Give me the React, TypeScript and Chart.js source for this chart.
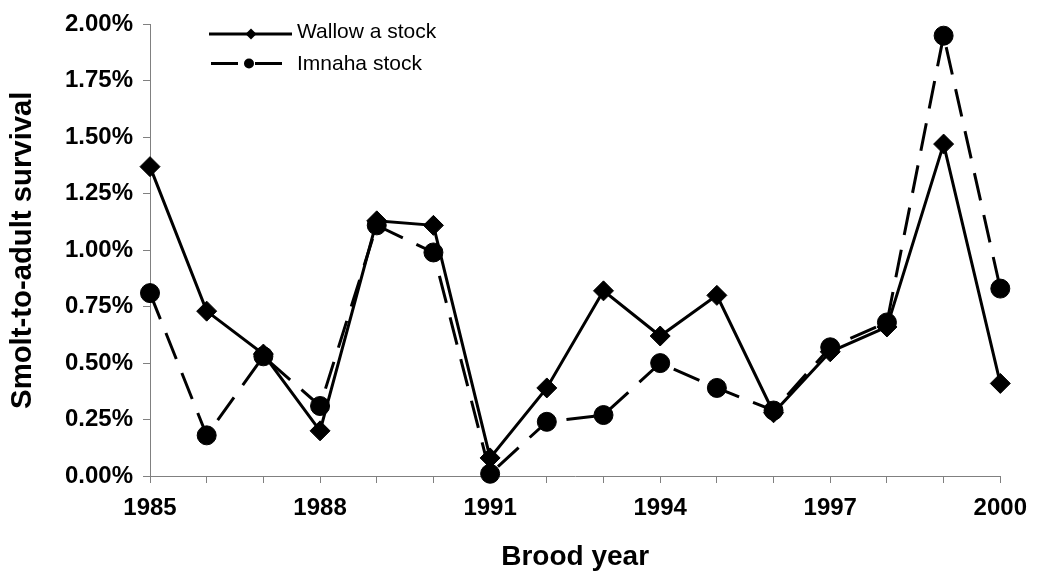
import React, { useEffect, useRef } from 'react';
import { Chart, registerables } from 'chart.js';

Chart.register(...registerables);

const years = [1985, 1986, 1987, 1988, 1989, 1990, 1991, 1992, 1993, 1994, 1995, 1996, 1997, 1998, 1999, 2000];
const wallowa = [1.37, 0.73, 0.54, 0.2, 1.13, 1.11, 0.08, 0.39, 0.82, 0.62, 0.8, 0.28, 0.55, 0.66, 1.47, 0.41];
const imnaha = [0.81, 0.18, 0.53, 0.31, 1.11, 0.99, 0.01, 0.24, 0.27, 0.5, 0.39, 0.29, 0.57, 0.68, 1.95, 0.83];
const xTickLabels = [1985, 1988, 1991, 1994, 1997, 2000];
const seriesNames = ['Wallow a stock', 'Imnaha stock'];
const xTitle = 'Brood year';
const yTitle = 'Smolt-to-adult survival';

const FONT = "'Liberation Sans', Arial, sans-serif";

const legendPlugin = {
  id: 'customLegend',
  afterDraw(chart: any) {
    const ctx = chart.ctx as CanvasRenderingContext2D;
    ctx.save();
    ctx.strokeStyle = '#000';
    ctx.fillStyle = '#000';
    ctx.lineWidth = 3;
    // row 1: solid line + diamond
    const y1 = 34;
    ctx.beginPath();
    ctx.moveTo(209, y1);
    ctx.lineTo(292, y1);
    ctx.stroke();
    ctx.beginPath();
    const cx1 = 251;
    const r1 = 5.5;
    ctx.moveTo(cx1 - r1, y1);
    ctx.lineTo(cx1, y1 - r1);
    ctx.lineTo(cx1 + r1, y1);
    ctx.lineTo(cx1, y1 + r1);
    ctx.closePath();
    ctx.fill();
    // row 2: dashed line + circle
    const y2 = 63.5;
    ctx.setLineDash([27, 17]);
    ctx.beginPath();
    ctx.moveTo(211, y2);
    ctx.lineTo(283, y2);
    ctx.stroke();
    ctx.setLineDash([]);
    ctx.beginPath();
    ctx.arc(249, y2, 5, 0, Math.PI * 2);
    ctx.fill();
    // text
    ctx.font = `21px ${FONT}`;
    ctx.textBaseline = 'middle';
    ctx.textAlign = 'left';
    ctx.fillText(seriesNames[0], 297, 32.5);
    ctx.fillText(seriesNames[1], 297, 64.5);
    ctx.restore();
  },
};

export default function App() {
  const canvasRef = useRef<HTMLCanvasElement | null>(null);

  useEffect(() => {
    const canvas = canvasRef.current;
    if (!canvas) return;
    const chart = new Chart(canvas, {
      type: 'line',
      data: {
        datasets: [
          {
            label: seriesNames[0],
            data: years.map((yr, i) => ({ x: yr, y: wallowa[i] })),
            borderColor: '#000',
            backgroundColor: '#000',
            borderWidth: 3,
            pointStyle: 'rectRot',
            pointRadius: 10,
            pointBorderWidth: 1,
            pointBackgroundColor: '#000',
            pointBorderColor: '#000',
            tension: 0,
            clip: false as any,
          },
          {
            label: seriesNames[1],
            data: years.map((yr, i) => ({ x: yr, y: imnaha[i] })),
            borderColor: '#000',
            backgroundColor: '#000',
            borderWidth: 3,
            borderDash: [28, 15],
            pointStyle: 'circle',
            pointRadius: 9.5,
            pointBorderWidth: 1,
            pointBackgroundColor: '#000',
            pointBorderColor: '#000',
            tension: 0,
            clip: false as any,
          },
        ],
      },
      options: {
        animation: false,
        responsive: false,
        maintainAspectRatio: false,
        layout: { padding: { left: 0, top: 18, right: 32, bottom: 0 } },
        plugins: {
          legend: { display: false },
          tooltip: { enabled: false },
        },
        scales: {
          x: {
            type: 'linear',
            min: 1985,
            max: 2000,
            afterFit: (s: any) => {
              s.height = 102;
            },
            ticks: {
              stepSize: 1,
              autoSkip: false,
              maxRotation: 0,
              padding: 11,
              color: '#000',
              font: { family: FONT, size: 24, weight: 'bold' },
              callback: (v: any) => (xTickLabels.includes(Number(v)) ? String(v) : ''),
            },
            grid: { drawOnChartArea: false, drawTicks: true, tickLength: 7, color: '#808080', lineWidth: 1 },
            border: { display: true, color: '#808080', width: 1 },
            title: {
              display: true,
              text: xTitle,
              color: '#000',
              font: { family: FONT, size: 28, weight: 'bold' },
              padding: { top: 0, bottom: 4 },
            },
          },
          y: {
            type: 'linear',
            min: 0,
            max: 2,
            afterFit: (s: any) => {
              s.width = 150;
            },
            ticks: {
              stepSize: 0.25,
              padding: 10,
              color: '#000',
              font: { family: FONT, size: 24, weight: 'bold' },
              callback: (v: any) => Number(v).toFixed(2) + '%',
            },
            grid: { drawOnChartArea: false, drawTicks: true, tickLength: 7, color: '#808080', lineWidth: 1 },
            border: { display: true, color: '#808080', width: 1 },
            title: {
              display: true,
              text: yTitle,
              color: '#000',
              font: { family: FONT, size: 29.3, weight: 'bold' },
              padding: { top: 5, bottom: 0 },
            },
          },
        },
      },
      plugins: [legendPlugin],
    });
    return () => {
      chart.destroy();
    };
  }, []);

  return (
    <div style={{ position: 'fixed', left: 0, top: 0, width: 1038, height: 578, background: '#fff' }}>
      <canvas ref={canvasRef} width={1038} height={578} style={{ display: 'block' }} />
    </div>
  );
}
